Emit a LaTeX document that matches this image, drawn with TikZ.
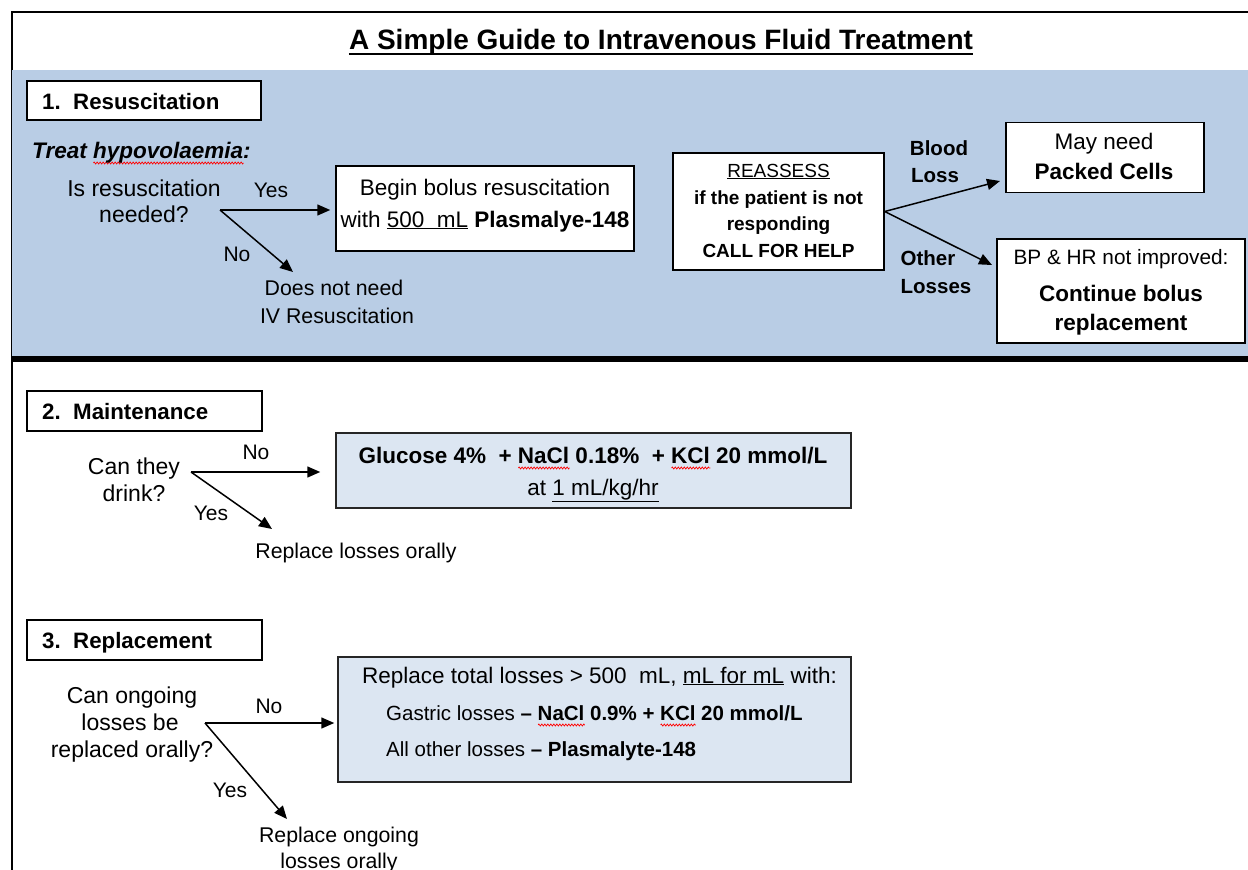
\documentclass[tikz,border=0pt]{standalone}
\usepackage{fontspec}
\setmainfont{Liberation Sans}
\usetikzlibrary{arrows.meta,decorations.pathmorphing}
\definecolor{band}{HTML}{B9CDE5}
\definecolor{lightbox}{HTML}{DCE6F2}
\newsavebox\wavebox
\newcommand\redwave[1]{\sbox\wavebox{#1}\leavevmode\rlap{\raisebox{-5pt}{\tikz[x=1pt,y=1pt,baseline=0pt]\draw[red,line width=0.7pt,decorate,decoration={zigzag,amplitude=1pt,segment length=3pt}] (0,0)--(\the\wd\wavebox,0);}}\usebox\wavebox}
\frenchspacing
\begin{document}
\begin{tikzpicture}[x=1pt,y=-1pt,
  t/.style={inner sep=0pt, anchor=base, font=\fontsize{22.5}{27}\selectfont},
  tq/.style={t, font=\fontsize{23}{27}\selectfont},
  tr/.style={t, font=\fontsize{21.3}{26}\selectfont},
  tl/.style={t, font=\fontsize{21}{25}\selectfont},
  tbl/.style={t, font=\fontsize{20.5}{25}\selectfont\bfseries},
  hd/.style={inner sep=0pt, anchor=base west, font=\fontsize{22.3}{27}\selectfont\bfseries},
  boxw/.style={draw=black, line width=1.5pt, fill=white, inner sep=0pt},
  boxb/.style={draw=black!85, line width=1.5pt, fill=lightbox, inner sep=0pt},
  arr/.style={-{Triangle[length=13pt,width=11pt]}, line width=1.5pt}]
\useasboundingbox (0,0) rectangle (1248,870);
% frame and band
\draw[line width=1.4pt] (12,870) -- (12,12) -- (1248,12);
\fill[band] (12,70) rectangle (1248,356);
\fill[black] (12,356) rectangle (1248,362);
% title
\node[t, font=\fontsize{28}{32}\selectfont\bfseries] (title) at (661,49) {A Simple Guide to Intravenous Fluid Treatment};
\draw[line width=2.2pt] ([yshift=-5pt]title.base west) -- ([yshift=-5pt]title.base east);

% ---------- Section 1 ----------
\node[boxw, minimum width=234pt, minimum height=39pt] (h1) at (144,100.5) {};
\node[hd] (h1t) at (42,109) {1.~ Resuscitation};
\node[t, anchor=base west] (treat) at (32,158) {\textbf{\textit{Treat \redwave{hypovolaemia}:}}};
\node[tq] (q1a) at (144,196) {Is resuscitation};
\node[tq] (q1b) at (144,222) {needed?};
\coordinate (br1) at (220,210);
\node[boxw, minimum width=298pt, minimum height=85pt] (begin) at (485,208.5) {};
\node[t] (begin1) at (485,195) {Begin bolus resuscitation};
\node[t] (begin2) at (485,227) {with \underline{500~ mL} \textbf{Plasmalye-148}};
\node[tl] (yes1) at (271,197) {Yes};
\node[tl] (no1) at (237,261) {No};
\node[tr] (r1a) at (334,295) {Does not need};
\node[tr] (r1b) at (337,323) {IV Resuscitation};
\coordinate (e1) at (293,272);
\draw[arr, shorten >=5pt] (br1) -- (br1 -| begin.west);
\draw[arr] (br1) -- (e1);

\node[boxw, minimum width=211pt, minimum height=117pt] (reas) at (778.5,211.5) {};
\node[t, font=\fontsize{19}{23}\selectfont] (reas1) at (778.5,177) {\underline{REASSESS}};
\node[t, font=\fontsize{19}{23}\selectfont\bfseries] (reas2) at (778.5,204) {if the patient is not};
\node[t, font=\fontsize{19}{23}\selectfont\bfseries] (reas3) at (778.5,230) {responding};
\node[t, font=\fontsize{19}{23}\selectfont\bfseries] (reas4) at (778.5,257) {CALL FOR HELP};

\node[tbl] (blood1) at (939,155) {Blood};
\node[tbl] (blood2) at (935,182) {Loss};
\node[tbl] (other1) at (928,265) {Other};
\node[tbl] (other2) at (936,293) {Losses};

\node[boxw, minimum width=198pt, minimum height=70pt] (packed) at (1105,157.5) {};
\node[t] (packed1) at (1104,149) {May need};
\node[t, font=\fontsize{22.5}{27}\selectfont\bfseries] (packed2) at (1104,179) {Packed Cells};

\node[boxw, minimum width=248pt, minimum height=104pt] (bp) at (1121,291) {};
\node[t, font=\fontsize{20.8}{25}\selectfont] (bp1) at (1121,264) {BP \& HR not improved:};
\node[t, font=\fontsize{22.5}{27}\selectfont\bfseries] (bp2) at (1121,301) {Continue bolus};
\node[t, font=\fontsize{22.5}{27}\selectfont\bfseries] (bp3) at (1121,330) {replacement};

\coordinate (eb) at (1000,181);
\coordinate (eo) at (992,265);
\draw[arr] (reas.east) -- (eb);
\draw[arr] (reas.east) -- (eo);

% ---------- Section 2 ----------
\node[boxw, minimum width=235pt, minimum height=40pt] (h2) at (144.5,411) {};
\node[hd] (h2t) at (42,419) {2.~ Maintenance};
\node[tq] (q2a) at (134,474) {Can they};
\node[tq] (q2b) at (134,501) {drink?};
\coordinate (br2) at (191,472);
\node[boxb, minimum width=515pt, minimum height=75pt] (gluc) at (593.5,470.5) {};
\node[t, font=\fontsize{22.5}{27}\selectfont\bfseries] (gluc1) at (593,463) {Glucose 4\%~ + \redwave{NaCl} 0.18\%~ + \redwave{KCl} 20 mmol/L};
\node[t] (gluc2) at (593,495) {at \underline{1 mL/kg/hr}};
\node[tl] (no2) at (256,459) {No};
\node[tl] (yes2) at (211,520) {Yes};
\node[tr] (r2) at (356,558) {Replace losses orally};
\coordinate (e2) at (272,529);
\draw[arr, shorten >=15pt] (br2) -- (br2 -| gluc.west);
\draw[arr] (br2) -- (e2);

% ---------- Section 3 ----------
\node[boxw, minimum width=235pt, minimum height=40pt] (h3) at (144.5,640) {};
\node[hd] (h3t) at (42,648) {3.~ Replacement};
\node[tq] (q3a) at (132,703) {Can ongoing};
\node[tq] (q3b) at (130,730) {losses be};
\node[tq] (q3c) at (132,757) {replaced orally?};
\coordinate (br3) at (205,723);
\node[boxb, minimum width=513pt, minimum height=125pt] (repl) at (594.5,719.5) {};
\node[t, anchor=base west] (repl1) at (362,683) {Replace total losses > 500~ mL, \underline{mL for mL} with:};
\node[t, anchor=base west, font=\fontsize{20.5}{25}\selectfont] (repl2) at (386,720) {Gastric losses \textbf{– \redwave{NaCl} 0.9\% + \redwave{KCl} 20 mmol/L}};
\node[t, anchor=base west, font=\fontsize{20.5}{25}\selectfont] (repl3) at (386,756) {All other losses \textbf{– Plasmalyte-148}};
\node[tl] (no3) at (269,713) {No};
\node[tl] (yes3) at (230,797) {Yes};
\node[tr] (r3a) at (339,842) {Replace ongoing};
\node[tr] (r3b) at (339,868) {losses orally};
\coordinate (e3) at (287,819);
\draw[arr, shorten >=3pt] (br3) -- (br3 -| repl.west);
\draw[arr] (br3) -- (e3);
\end{tikzpicture}
\end{document}
